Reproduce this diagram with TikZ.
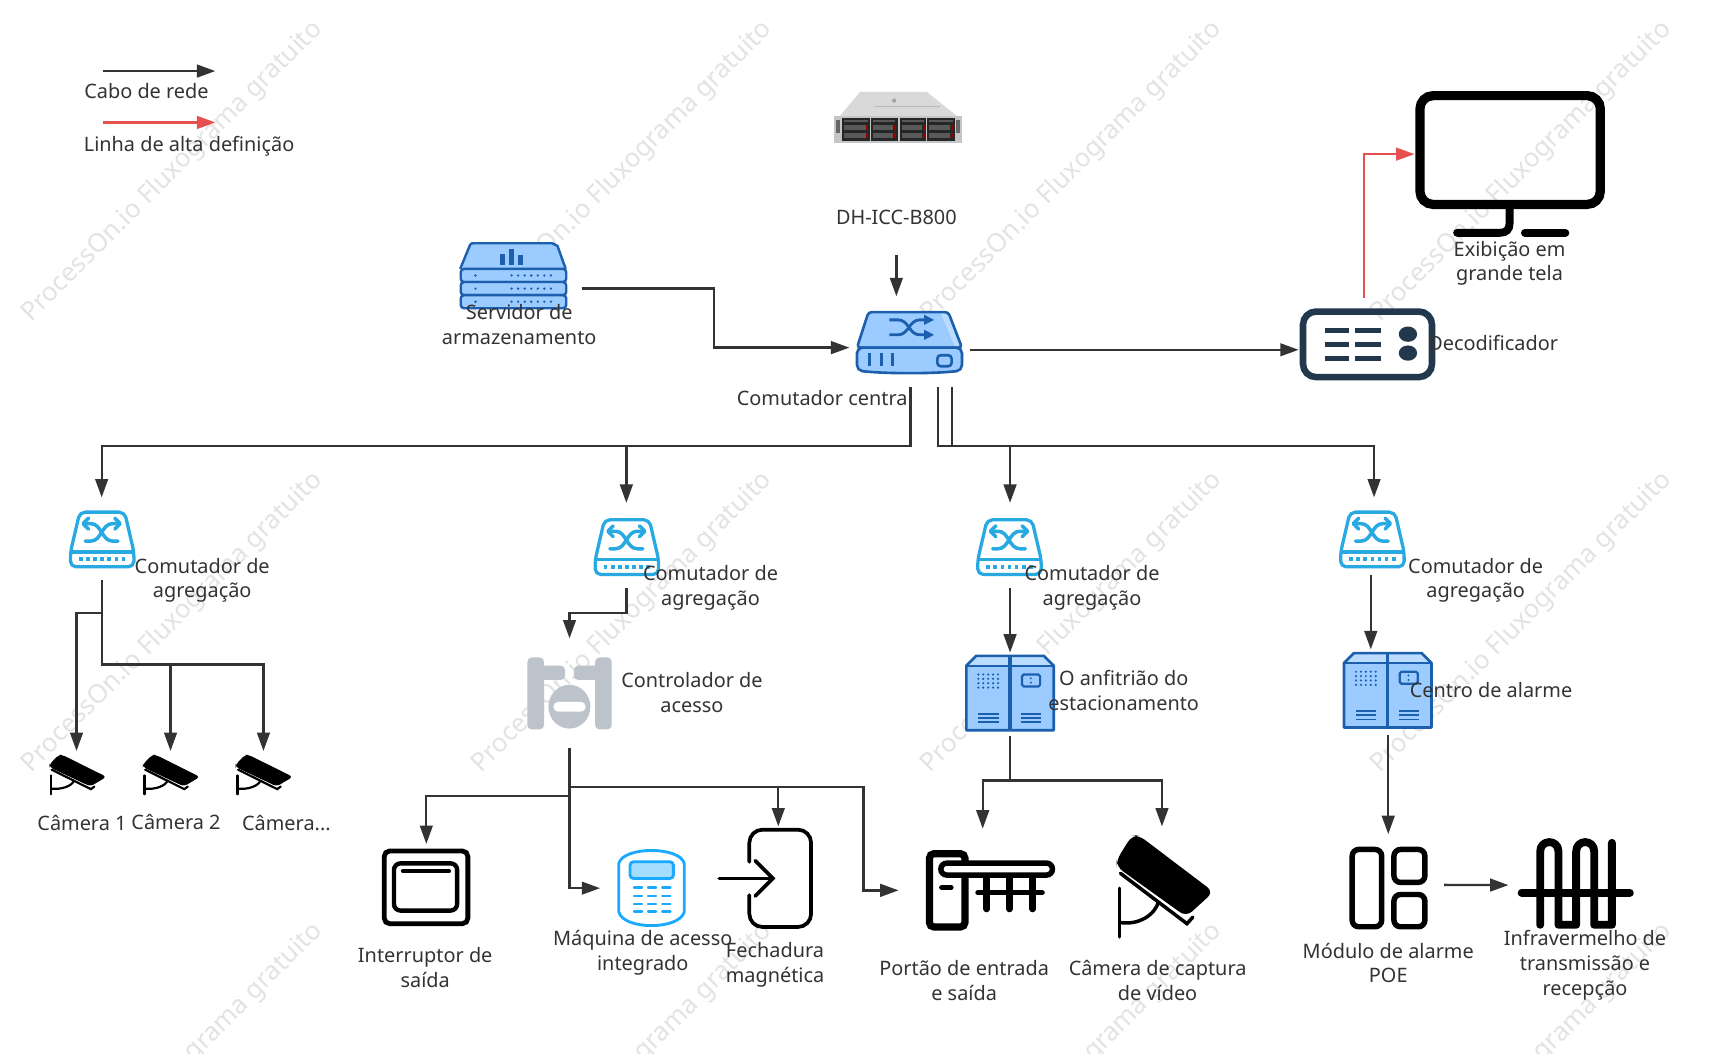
\documentclass[tikz,border=0pt]{standalone}
\usepackage{fontspec}
\setmainfont{Noto Sans}
\usetikzlibrary{arrows.meta}
\definecolor{ink}{HTML}{333333}
\definecolor{wmark}{HTML}{E3E3E3}
\definecolor{hub}{HTML}{29A9E1}
\definecolor{dblue}{HTML}{1B5FAD}
\definecolor{lblue}{HTML}{9CCBFF}
\definecolor{llblue}{HTML}{B9DCFF}
\definecolor{navy}{HTML}{22384D}
\definecolor{redline}{HTML}{E85050}
\definecolor{ctrlgray}{HTML}{BCC3CA}
\definecolor{keypad}{HTML}{1AA9FF}
\newcommand{\bx}[5]{\node[boxn,minimum width={(#4-#2)*0.5pt},minimum height={(#5-#3)*0.5pt}] (#1) at ({(#2+#4)/2},{(#3+#5)/2}) {};}
\newcommand{\drawcam}[2]{%
  \fill[black,rounded corners=#2] (-2,72) -- (45,-3) -- (65,-3) -- (290,168) -- (208,243) -- (-2,92) -- cycle;
  \draw[black,line width=#1,line cap=round] (10,112) -- (210,264) -- (228,244);
  \draw[black,line width=#1,line cap=round] (7,157) -- (7,304);
  \draw[black,line width=#1] (7,260) .. controls (60,270) and (115,240) .. (125,195);}
\tikzset{
  x=0.5pt,y=-0.5pt,
  boxn/.style={inner sep=0pt,outer sep=0pt,draw=none},
  lbl/.style={font=\fontsize{9.1}{11.25}\selectfont,text=ink,align=center,inner sep=0pt},
  wm/.style={font=\fontsize{11.8}{13}\selectfont,text=wmark,inner sep=0pt,rotate=45},
  conn/.style={draw=ink,line width=1.05pt,-{Triangle[length=8.4pt,width=5.8pt]}},
  connp/.style={draw=ink,line width=1.05pt},
  redconn/.style={draw=redline,line width=1.05pt,-{Triangle[length=8.4pt,width=5.8pt]}},
  pics/aggsw/.style={code={
    \draw[hub,line width=1.5pt,line join=round,rounded corners=2.5pt] (10,1.5) -- (51,1.5) -- (59.5,38) -- (59.5,51.5) -- (1.5,51.5) -- (1.5,38) -- cycle;
    \draw[hub,line width=1.5pt] (1.5,38) -- (59.5,38);
    \foreach \q in {11,17.5,24,30.5,37,43.5,50} {\fill[hub] (\q-1.7,42.7) rectangle (\q+1.7,46.3);}
    \draw[hub,line width=1.6pt,line cap=round] (15,28) -- (20,28) .. controls (30,28) and (30,12) .. (40,12) -- (45,12);
    \draw[hub,line width=1.6pt,line cap=round] (45,28) -- (40,28) .. controls (30,28) and (30,12) .. (20,12) -- (15,12);
    \draw[hub,line width=1.6pt,line cap=round,line join=round] (18,7) -- (13,12) -- (18,17);
    \draw[hub,line width=1.6pt,line cap=round,line join=round] (42,7) -- (47,12) -- (42,17);
  }},
  pics/cabinet/.style={code={
    \fill[llblue] (1,10) -- (10,1) -- (72,1) -- (81,10) -- cycle;
    \fill[lblue] (1,10) rectangle (81,69);
    \draw[dblue,line width=1.2pt,line join=round] (1,10) -- (10,1) -- (72,1) -- (81,10) -- (81,69) -- (1,69) -- cycle;
    \draw[dblue,line width=1pt] (1,10) -- (81,10);
    \draw[dblue,line width=1.6pt] (41,1) -- (41,69);
    \foreach \a in {12,16.5,21,25.5,30} {\foreach \b in {18,22,26,30} {\fill[dblue] (\a,\b) circle (0.55pt);}}
    \draw[dblue,line width=1pt,rounded corners=0.8pt] (52,18) rectangle (68.5,29);
    \fill[dblue] (60,21.5) circle (0.5pt) (60,25.5) circle (0.5pt);
    \foreach \b in {54,57.8,61.6} {\draw[dblue,line width=0.7pt] (12,\b) -- (30.5,\b) (51,\b) -- (69.5,\b);}
  }},
  pics/cctv/.style={code={\drawcam{1pt}{1.6pt}}},
  pics/cctvbig/.style={code={\drawcam{1.6pt}{3.5pt}}},
}
\begin{document}
\begin{tikzpicture}
\path[use as bounding box,fill=white] (0,0) rectangle (1568,964);
\begin{scope}
\clip (0,0) rectangle (1568,964);
\foreach \i in {0,1,2,3} {\foreach \j in {0,1,2} {
  \node[wm] (wm\i\j) at ({158+411.3*\i},{157+412.5*\j}) {ProcessOn.io Fluxograma gratuito};
}}
\end{scope}

% ---------- invisible boxes that connectors attach to
\bx{core}{777}{271}{887}{354}
\bx{storage}{421}{222}{532}{282}
\bx{decoder}{1188}{273}{1313}{348}
\bx{monitor}{1294}{84}{1468}{216}
\bx{swa}{62}{455}{124}{531}
\bx{swb}{542}{460}{604}{538}
\bx{swc}{893}{460}{955}{538}
\bx{swd}{1225}{455}{1286}{526}
\bx{cama}{44}{687}{96}{727}
\bx{camb}{130}{687}{182}{727}
\bx{camc}{215}{687}{267}{727}
\bx{ctrl}{482}{584}{560}{684}
\bx{exitsw}{349}{772}{431}{847}
\bx{keypd}{549}{777}{627}{848}
\bx{lock}{681}{756}{743}{848}
\bx{gate}{822}{758}{976}{871}
\bx{bigcam}{1020}{756}{1106}{858}
\bx{park}{883}{597}{965}{673}
\bx{alarm}{1228}{594}{1312}{672}
\bx{poe}{1219}{763}{1321}{856}
\bx{infra}{1380}{770}{1494}{849.4}
\bx{srv}{763}{83}{880}{131}
\coordinate (lega) at (94,65);
\coordinate (legb) at (197,65);
\coordinate (legc) at (94,112);
\coordinate (legd) at (197,112);
\coordinate (dhout) at (820,233);
\coordinate (storagebend) at (653,290);
\coordinate (bus) at (0,408);
\coordinate (buslow) at (0,561);
\coordinate (buscam) at (0,608);
\coordinate (busb) at (0,561);
\coordinate (busexit) at (0,728);
\coordinate (buslock) at (0,720);
\coordinate (gatebend) at (790,770);
\coordinate (buspark) at (0,714);
\coordinate (coreA) at ([xshift=0.5pt]core.south);
\coordinate (coreB) at ([xshift=13pt]core.south);
\coordinate (coreC) at ([xshift=19.5pt]core.south);

% ---------- DH server photo
\fill[gray!30] (786.8,84) -- (847.8,84) -- (875.3,106) -- (768.5,106) -- cycle;
\fill[gray!55] (800,97) rectangle (860,98);
\fill[gray!70] (818,92) circle (1pt);
\fill[gray!45] (763.3,106) rectangle (880.4,130.6);
\foreach \x/\w in {770/26,796.6/24.5,823/24.5,848/25.5} {
  \fill[black!85] (\x,108) rectangle (\x+\w,129);
  \foreach \r in {114.5,122} {
    \fill[black!65] (\x+2,\r) rectangle (\x+\w-4,\r+4);
    \fill[red!60!black] (\x+\w-3.5,\r) rectangle (\x+\w-1.5,\r+4);
  }
  \fill[black!65] (\x+2,109.5) rectangle (\x+\w-2,112);
}
\fill[black!60] (765,110) rectangle (768,122);
\fill[black!60] (875,110) rectangle (878,122);

% ---------- storage server icon
\begin{scope}[shift={(421,222)}]
  \fill[lblue] (0,24) -- (9,2) .. controls (10,0.5) and (11,0.5) .. (13,0.5) -- (84,0.5) -- (89,3) -- (96.5,24) -- cycle;
  \draw[dblue,line width=1.1pt,line join=round] (0,24) -- (9,2) .. controls (10,0.5) and (11,0.5) .. (13,0.5) -- (84,0.5) -- (89,3) -- (96.5,24);
  \foreach \a/\t in {39/11,47/15,55/10} {\fill[dblue] (\a-2.2,20-\t+1) rectangle (\a+2.2,20);}
  \foreach \t in {24,36,48} {
    \draw[dblue,line width=1.1pt,fill=lblue,rounded corners=1.5pt] (0.5,\t) rectangle (97,\t+12);
    \fill[dblue] (14,\t+6) circle (0.6pt);
    \foreach \a in {47,53,59,65,71,77,83} {\fill[dblue] (\a,\t+6) circle (0.6pt);}
  }
\end{scope}

% ---------- core switch icon
\begin{scope}[shift={(783.5,285)}]
  \fill[lblue] (0.5,33) -- (11,0.5) -- (84,0.5) -- (96.5,33) -- cycle;
  \fill[llblue] (77,1) -- (84,1) -- (95,32) -- (90,32) -- cycle;
  \draw[dblue,line width=1.2pt,line join=round,rounded corners=1.5pt] (0.5,33) -- (11,0.5) -- (84,0.5) -- (96.5,33) -- cycle;
  \draw[dblue,line width=1.2pt,fill=lblue,rounded corners=2.5pt] (0.5,33) -- (96.5,33) -- (96.5,54) .. controls (70,57) and (27,57) .. (0.5,54) -- cycle;
  \draw[dblue,line width=1.3pt] (30,7.6) -- (38,7.6) .. controls (48,7.6) and (48,21.3) .. (58,21.3) -- (64,21.3);
  \draw[dblue,line width=1.3pt] (30,21.3) -- (38,21.3) .. controls (48,21.3) and (48,7.6) .. (58,7.6) -- (64,7.6);
  \fill[dblue] (71,7.6) -- (62,3) -- (62,12.2) -- cycle (71,21.3) -- (62,16.7) -- (62,25.9) -- cycle;
  \foreach \a in {12,23,33} {\draw[dblue,line width=1.1pt] (\a,38) -- (\a,50);}
  \draw[dblue,line width=1.2pt,rounded corners=1.5pt] (74,40) rectangle (87,50);
\end{scope}

% ---------- decoder
\draw[navy,line width=3pt,rounded corners=6pt] (1192,285) rectangle (1310,345);
\foreach \y in {302,315,328} {
  \draw[navy,line width=2.2pt] (1212,\y) -- (1234,\y) (1240,\y) -- (1263,\y);
}
\fill[navy] (1288,305.7) ellipse (4.2pt and 3.5pt) (1288,323) ellipse (4.2pt and 3.5pt);

% ---------- monitor
\draw[black,line width=4.2pt,rounded corners=6pt] (1299,87.5) rectangle (1464,187);
\draw[black,line width=3.6pt,line cap=round] (1381,190) -- (1381,204) .. controls (1381,210) and (1378,213) .. (1372,213) -- (1333,213);
\draw[black,line width=3.6pt,line cap=round] (1395,213) -- (1432,213);

% ---------- aggregation switches
\pic at (63,467) {aggsw};
\pic at (543,474) {aggsw};
\pic at (893,474) {aggsw};
\pic at (1225,467) {aggsw};

% ---------- small cameras
\pic[xscale=0.179,yscale=0.117] at (45.5,691) {cctv};
\pic[xscale=0.179,yscale=0.117] at (131,691) {cctv};
\pic[xscale=0.179,yscale=0.117] at (216,691) {cctv};

% ---------- access controller
\begin{scope}
  \fill[ctrlgray,rounded corners=2pt] (482.5,601.4) rectangle (497.7,667.3);
  \fill[ctrlgray,rounded corners=2pt] (544.4,601.4) rectangle (559.6,667.3);
  \fill[ctrlgray,rounded corners=2pt] (490,609) rectangle (517,622);
  \fill[ctrlgray,rounded corners=2pt] (525,609) rectangle (552,622);
  \fill[ctrlgray] (520.9,646.5) ellipse (9.6pt and 10pt);
  \fill[white,rounded corners=2.2pt] (506.3,642) rectangle (535.8,651.1);
\end{scope}

% ---------- cabinets
\pic at (883,599) {cabinet};
\pic at (1228.5,596.5) {cabinet};

% ---------- exit switch
\draw[black,line width=2.2pt,rounded corners=2.5pt] (351.5,778.5) rectangle (428,845);
\draw[black,line width=2pt,rounded corners=3pt] (360.4,789.8) rectangle (418.2,833);
\draw[black,line width=1.6pt,line cap=round] (368.4,796.9) -- (411,796.9);

% ---------- keypad
\draw[keypad,line width=1.3pt] (566,790) .. controls (570,774) and (622,774) .. (626,790) -- (626,834) .. controls (622,851) and (570,851) .. (566,834) -- cycle;
\draw[keypad,line width=1.3pt,fill=keypad!40,rounded corners=1.5pt] (576.4,788.4) rectangle (616,803.6);
\foreach \y in {812,819.5,826.8,834} {
  \draw[keypad,line width=1.1pt,line cap=round] (580,\y) -- (587.4,\y) (592.8,\y) -- (600.2,\y) (605.9,\y) -- (613.3,\y);
}

% ---------- magnetic lock
\draw[black,line width=1.7pt,line cap=round,rounded corners=6pt] (685.5,788.4) -- (685.5,759) -- (742,759) -- (742,848) -- (685.5,848) -- (685.5,818.9);
\draw[black,line width=1.7pt,line cap=round] (658,803.6) -- (706,803.6);
\draw[black,line width=1.7pt,line cap=round,line join=miter] (690.8,787.4) -- (707,803.6) -- (690.8,819.8);

% ---------- gate
\draw[black,line width=3.3pt,rounded corners=2pt] (850.3,781) rectangle (882.7,848);
\draw[black,line width=2.4pt,line cap=round] (861.5,811.8) -- (870,811.8);
\foreach \x in {902.7,923.4,944.8} {\draw[black,line width=3.1pt,line cap=round] (\x,802) -- (\x,831.5);}
\draw[black,line width=2.3pt,line cap=round] (894.5,816.7) -- (953.5,816.7);
\draw[black,line width=2.5pt,fill=white,rounded corners=2.7pt] (860.7,789.6) rectangle (962.8,800.5);

% ---------- big camera
\pic[xscale=0.304,yscale=0.303] at (1022,765) {cctvbig};

% ---------- POE module
\draw[black,line width=2.5pt,rounded corners=3pt] (1237,777.1) rectangle (1264,847.8);
\draw[black,line width=2.5pt,rounded corners=3pt] (1275.2,777.1) rectangle (1303.5,807.2);
\draw[black,line width=2.5pt,rounded corners=3pt] (1275.2,818.3) rectangle (1303.5,847.8);

% ---------- infrared
\draw[black,line width=3.6pt,line cap=round,line join=round] (1409,846) -- (1409,779) .. controls (1409,767.5) and (1425.7,767.5) .. (1425.7,779) -- (1425.7,846) -- (1441.9,846) -- (1441.9,779) .. controls (1441.9,767.5) and (1458.4,767.5) .. (1458.4,779) -- (1458.4,846) -- (1474.6,846) -- (1474.6,771);
\draw[black,line width=3.6pt,line cap=round] (1392,816.7) -- (1491,816.7);

% ---------- connectors
\draw[conn] (lega) -- (legb);
\draw[redconn] (legc) -- (legd);
\draw[conn] (dhout) -- ([xshift=-6pt]core.north);
\draw[conn] ([yshift=-6pt]storage.east) -| (storagebend) |- ([yshift=-2.75pt]core.west);
\draw[conn] ([yshift=-3.75pt]core.east) -- ([yshift=-4.75pt]decoder.west);
\draw[redconn] ([xshift=-1.25pt]decoder.north) |- ([yshift=4.5pt]monitor.west);
\draw[conn] (coreA) -- (coreA |- bus) -- (swa.north |- bus) -- (swa.north);
\draw[conn] (coreA) -- (coreA |- bus) -- (swb.north |- bus) -- (swb.north);
\draw[conn] (coreB) -- (coreB |- bus) -- (swc.north |- bus) -- (swc.north);
\draw[conn] (coreC) -- (coreC |- bus) -- ([xshift=0.75pt]swd.north |- bus) -- ([xshift=0.75pt]swd.north);
\draw[conn] (swa.south) -- (swa.south |- buslow) -- (cama.north |- buslow) -- (cama.north);
\draw[conn] (swa.south) -- (swa.south |- buscam) -- (camb.north |- buscam) -- (camb.north);
\draw[conn] (swa.south) -- (swa.south |- buscam) -- (camc.north |- buscam) -- (camc.north);
\draw[conn] (swb.south) -- (swb.south |- busb) -- (ctrl.north |- busb) -- (ctrl.north);
\draw[conn] (ctrl.south) -- (ctrl.south |- busexit) -- (exitsw.north |- busexit) -- (exitsw.north);
\draw[conn] (ctrl.south) |- (keypd.west);
\draw[conn] (ctrl.south) -- (ctrl.south |- buslock) -- (lock.north |- buslock) -- (lock.north);
\draw[conn] (ctrl.south |- buslock) -| (gatebend) |- (gate.west);
\draw[conn] (swc.south) -- (park.north);
\draw[conn] ([xshift=-0.75pt]swd.south) -- ([xshift=-0.75pt]swd.south |- alarm.north);
\draw[conn] (park.south) -- (park.south |- buspark) -- (gate.north |- buspark) -- (gate.north);
\draw[conn] (park.south) -- (park.south |- buspark) -- (bigcam.north |- buspark) -- (bigcam.north);
\draw[conn] (alarm.south) -- (poe.north);
\draw[conn] (poe.east) -- (infra.west);

% ---------- labels
\node[lbl] (tcabo) at (134,83) {Cabo de rede};
\node[lbl] (tlinha) at (173,134) {Linha de alta definição};
\node[lbl] (tdh) at (820,199) {DH-ICC-B800};
\node[lbl] (tstor) at (475,297) {Servidor de\\armazenamento};
\node[lbl] (tcore) at (754.5,364) {Comutador central};
\node[lbl] (tdec) at (1366,314) {Decodificador};
\node[lbl] (tmon) at (1381,241) {Exibição em\\grande tela};
\node[lbl] (tswa) at (185,531) {Comutador de\\agregação};
\node[lbl] (tswb) at (650,538) {Comutador de\\agregação};
\node[lbl] (tswc) at (999,538) {Comutador de\\agregação};
\node[lbl] (tswd) at (1350,531) {Comutador de\\agregação};
\node[lbl] (tcama) at (75,753) {Câmera 1};
\node[lbl] (tcamb) at (161,752) {Câmera 2};
\node[lbl] (tcamc) at (262,753) {Câmera...};
\node[lbl] (tctrl) at (633,633.5) {Controlador de\\acesso};
\node[lbl] (tpark) at (1028,631.5) {O anfitrião do\\estacionamento};
\node[lbl] (talarm) at (1364,631) {Centro de alarme};
\node[lbl] (texit) at (389,885) {Interruptor de\\saída};
\node[lbl] (tkey) at (588,871.5) {Máquina de acesso\\integrado};
\node[lbl] (tlock) at (709,882.5) {Fechadura\\magnética};
\node[lbl] (tgate) at (882,897) {Portão de entrada\\e saída};
\node[lbl] (tbig) at (1059,897) {Câmera de captura\\de vídeo};
\node[lbl] (tpoe) at (1270,881) {Módulo de alarme\\POE};
\node[lbl] (tinfra) at (1450,883) {Infravermelho de\\transmissão e\\recepção};
\end{tikzpicture}
\end{document}
